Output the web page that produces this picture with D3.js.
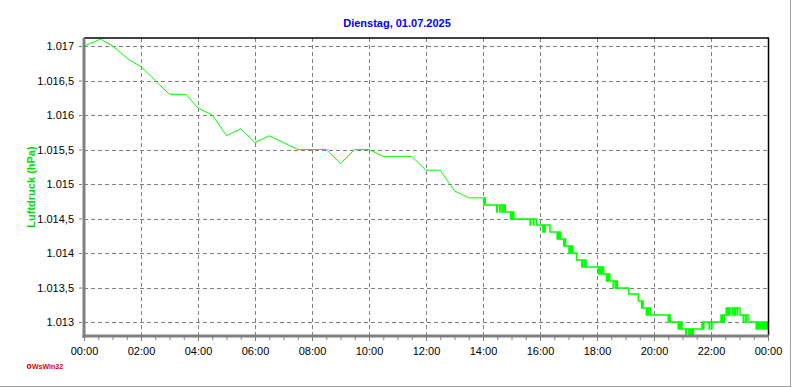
<!DOCTYPE html>
<html>
<head>
<meta charset="utf-8">
<script src="https://cdn.jsdelivr.net/npm/d3@7"></script>
<style>
  body { margin: 0; background: #fff; }
  svg { display: block; font-family: "Liberation Sans", Arial, sans-serif; }
</style>
</head>
<body>
<div id="container"></div>
<script>
/* CONSTANTS AND GLOBALS */
const width = 792;
const height = 387;
const plot = { left: 84, right: 768, top: 38, bottom: 336 };

/* DATA */
const titleText = "Dienstag, 01.07.2025";
const yLabelText = "Luftdruck (hPa)";

// half-hourly readings until 14:00
const earlyTimes = ["00:00", "00:35", "01:00", "01:35", "02:00", "03:00", "03:35", "04:00", "04:30",
  "05:00", "05:30", "06:00", "06:30", "07:00", "07:30", "08:00", "08:30", "09:00", "09:30",
  "10:00", "10:30", "11:00", "11:30", "12:00", "12:30", "13:00", "13:30", "14:00"];
const earlyValues = [1017.0, 1017.1, 1017.0, 1016.8, 1016.7, 1016.3, 1016.3, 1016.1, 1016.0,
  1015.7, 1015.8, 1015.6, 1015.7, 1015.6, 1015.5, 1015.5, 1015.5, 1015.3, 1015.5,
  1015.5, 1015.4, 1015.4, 1015.4, 1015.2, 1015.2, 1014.9, 1014.8, 1014.8];

// dense readings after 14:00 (minutes after midnight)
const lateMinutes = [840, 842, 843, 845, 869, 870, 875, 876, 880, 881, 884, 885, 887,
  898, 899, 902, 903, 905, 939, 940, 946, 947, 953, 966, 967, 970, 971, 981,
  996, 997, 1000, 1001, 1003, 1010, 1011, 1014, 1021, 1022, 1025, 1026, 1029,
  1037, 1048, 1049, 1053, 1054, 1057, 1083, 1084, 1087, 1088, 1091, 1092, 1094,
  1100, 1101, 1104, 1105, 1107, 1114, 1115, 1119, 1120, 1123, 1147, 1167, 1174, 1175, 1177,
  1184, 1185, 1188, 1189, 1193, 1230, 1233, 1234, 1251, 1252, 1255, 1256, 1259,
  1267, 1268, 1273, 1274, 1277, 1279, 1280, 1283, 1301, 1302, 1305, 1316, 1317, 1321, 1322,
  1341, 1342, 1345, 1346, 1348, 1352, 1353, 1356, 1357, 1360, 1365, 1366, 1370, 1371, 1375, 1376, 1381,
  1388, 1389, 1393, 1394, 1398, 1415, 1416, 1419, 1420, 1423, 1424, 1428, 1429, 1432, 1433, 1436, 1437, 1440];
const lateValues = [1014.8, 1014.7, 1014.8, 1014.7, 1014.6, 1014.7, 1014.6, 1014.7, 1014.6, 1014.7, 1014.6, 1014.7, 1014.6,
  1014.5, 1014.6, 1014.5, 1014.6, 1014.5, 1014.4, 1014.5, 1014.4, 1014.5, 1014.4, 1014.3, 1014.4, 1014.3, 1014.4, 1014.3,
  1014.2, 1014.3, 1014.2, 1014.3, 1014.2, 1014.1, 1014.2, 1014.1, 1014.0, 1014.1, 1014.0, 1014.1, 1014.0,
  1013.9, 1013.8, 1013.9, 1013.8, 1013.9, 1013.8, 1013.7, 1013.8, 1013.7, 1013.8, 1013.7, 1013.8, 1013.7,
  1013.6, 1013.7, 1013.6, 1013.7, 1013.6, 1013.5, 1013.6, 1013.5, 1013.6, 1013.5, 1013.4, 1013.3, 1013.2, 1013.3, 1013.2,
  1013.1, 1013.2, 1013.1, 1013.2, 1013.1, 1013.0, 1013.1, 1013.0, 1012.9, 1013.0, 1012.9, 1013.0, 1012.9,
  1012.8, 1012.9, 1012.8, 1012.9, 1012.8, 1012.9, 1012.8, 1012.9, 1013.0, 1012.9, 1013.0, 1012.9, 1013.0, 1012.9, 1013.0,
  1013.1, 1013.0, 1013.1, 1013.0, 1013.1, 1013.2, 1013.1, 1013.2, 1013.1, 1013.2, 1013.1, 1013.2, 1013.1, 1013.2, 1013.1, 1013.2, 1013.1,
  1013.0, 1013.1, 1013.0, 1013.1, 1013.0, 1012.9, 1013.0, 1012.9, 1013.0, 1012.9, 1013.0, 1012.9, 1013.0, 1012.9, 1013.0, 1012.9, 1013.0, 1012.9];

const yTicks = [1013, 1013.5, 1014, 1014.5, 1015, 1015.5, 1016, 1016.5, 1017];
const xTickMinutes = [0, 120, 240, 360, 480, 600, 720, 840, 960, 1080, 1200, 1320, 1440];
const xTickLabels = ["00:00", "02:00", "04:00", "06:00", "08:00", "10:00", "12:00", "14:00", "16:00", "18:00", "20:00", "22:00", "00:00"];

const toMinutes = s => +s.slice(0, 2) * 60 + +s.slice(3, 5);
const early = earlyTimes.map((t, i) => ({ t: toMinutes(t), v: earlyValues[i] }));
const late = lateMinutes.map((t, i) => ({ t: t, v: lateValues[i] }));

/* SCALES */
const xScale = d3.scaleLinear().domain([0, 1440]).range([plot.left, plot.right]);
const yScale = d3.scaleLinear().domain([1013, 1017]).range([322, 46]);

const de = d3.formatLocale({ decimal: ",", thousands: ".", grouping: [3], currency: ["", " €"] });
const yFormat = de.format(",.1~f");

/* HTML ELEMENTS */
const svg = d3.select("#container")
  .append("svg")
  .attr("width", width)
  .attr("height", height);

// window frame (right / bottom edge)
svg.append("line").attr("x1", 790.5).attr("x2", 790.5).attr("y1", 0).attr("y2", 387)
  .attr("stroke", "#a0a0a0");
svg.append("line").attr("x1", 0).attr("x2", 791).attr("y1", 386.5).attr("y2", 386.5)
  .attr("stroke", "#a0a0a0");

// title
svg.append("text")
  .attr("x", 397).attr("y", 27)
  .attr("text-anchor", "middle")
  .style("font-size", "11px").style("font-weight", "bold")
  .attr("fill", "#0000ff")
  .text(titleText);

// grid
const grid = svg.append("g").attr("stroke", "#808080").attr("stroke-dasharray", "4,3")
  .attr("shape-rendering", "crispEdges");
grid.selectAll("line.h")
  .data(yTicks)
  .join("line")
  .attr("class", "h")
  .attr("x1", plot.left).attr("x2", plot.right)
  .attr("y1", d => Math.round(yScale(d)) + 0.5).attr("y2", d => Math.round(yScale(d)) + 0.5);
grid.selectAll("line.v")
  .data(xTickMinutes.slice(1, -1))
  .join("line")
  .attr("class", "v")
  .attr("x1", d => Math.round(xScale(d)) + 0.5).attr("x2", d => Math.round(xScale(d)) + 0.5)
  .attr("y1", plot.top).attr("y2", plot.bottom);

// clip
svg.append("clipPath").attr("id", "clip")
  .append("rect").attr("x", plot.left).attr("y", plot.top).attr("width", plot.right - plot.left).attr("height", plot.bottom - plot.top + 1);

const chart = svg.append("g").attr("clip-path", "url(#clip)");

chart.append("path")
  .datum(early)
  .attr("fill", "none")
  .attr("stroke", "#00ff00")
  .attr("stroke-width", 1)
  .attr("d", d3.line().x(d => xScale(d.t)).y(d => yScale(d.v)));

chart.append("path")
  .datum(late)
  .attr("fill", "none")
  .attr("stroke", "#00ff00")
  .attr("stroke-width", 1.5)
  .attr("d", d3.line().curve(d3.curveStepAfter).x(d => xScale(d.t)).y(d => Math.round(yScale(d.v))));

// frame top / right
svg.append("line").attr("x1", plot.left).attr("x2", plot.right + 1).attr("y1", plot.top).attr("y2", plot.top)
  .attr("stroke", "#000").attr("stroke-width", 1.5);
svg.append("line").attr("x1", plot.right + 0.5).attr("x2", plot.right + 0.5).attr("y1", plot.top).attr("y2", plot.bottom)
  .attr("stroke", "#000").attr("stroke-width", 1.5);

// y axis
const yAxis = d3.axisLeft(yScale)
  .tickValues(yTicks)
  .tickFormat(yFormat)
  .tickSize(3)
  .tickPadding(5);
const yAxisMinor = d3.axisLeft(yScale)
  .tickValues(d3.range(12780, 17120, 1).filter(d => d % 1 === 0).map(d => d / 10).filter(d => d >= 1012.8 && d <= 1017.1))
  .tickFormat("")
  .tickSize(3);

svg.append("g")
  .attr("transform", `translate(${plot.left - 2},0)`)
  .call(yAxisMinor)
  .call(g => g.select(".domain").remove())
  .call(g => g.selectAll("line").attr("stroke", "#808080"));

svg.append("g")
  .attr("transform", `translate(${plot.left - 2},0)`)
  .call(yAxis)
  .call(g => g.select(".domain").remove())
  .call(g => g.selectAll("line").attr("stroke", "#808080"))
  .call(g => g.selectAll("text").style("font-size", "11px").style("font-family", "'Liberation Sans', Arial, sans-serif").attr("fill", "#000"));

svg.append("line").attr("x1", plot.left).attr("x2", plot.left).attr("y1", plot.top).attr("y2", plot.bottom + 2)
  .attr("stroke", "#808080").attr("stroke-width", 3);

// x axis
const xAxis = d3.axisBottom(xScale)
  .tickValues(xTickMinutes)
  .tickFormat((d, i) => xTickLabels[i])
  .tickSize(4)
  .tickPadding(6);
const xAxisMinor = d3.axisBottom(xScale)
  .tickValues(d3.range(0, 1441, 30))
  .tickFormat("")
  .tickSize(3);

svg.append("g")
  .attr("transform", `translate(0,${plot.bottom + 1})`)
  .call(xAxisMinor)
  .call(g => g.select(".domain").remove())
  .call(g => g.selectAll("line").attr("stroke", "#808080"));

svg.append("g")
  .attr("transform", `translate(0,${plot.bottom + 1})`)
  .call(xAxis)
  .call(g => g.select(".domain").remove())
  .call(g => g.selectAll("line").attr("stroke", "#808080"))
  .call(g => g.selectAll("text").style("font-size", "11px").style("font-family", "'Liberation Sans', Arial, sans-serif").attr("fill", "#000"));

svg.append("line").attr("x1", plot.left - 1.5).attr("x2", plot.right + 1).attr("y1", plot.bottom).attr("y2", plot.bottom)
  .attr("stroke", "#808080").attr("stroke-width", 3);

// y label
svg.append("text")
  .attr("transform", `translate(35,${(plot.top + plot.bottom) / 2}) rotate(-90)`)
  .attr("text-anchor", "middle")
  .style("font-size", "11px").style("font-weight", "bold")
  .attr("fill", "#00dd00")
  .text(yLabelText);

// logo
svg.append("circle").attr("cx", 29).attr("cy", 366.5).attr("r", 1.8)
  .attr("fill", "none").attr("stroke", "#e00000").attr("stroke-width", 1.2);
svg.append("text")
  .attr("x", 32).attr("y", 369)
  .style("font-size", "7px").style("font-weight", "bold")
  .attr("fill", "#e00000")
  .text("WsWin32");
</script>
</body>
</html>
